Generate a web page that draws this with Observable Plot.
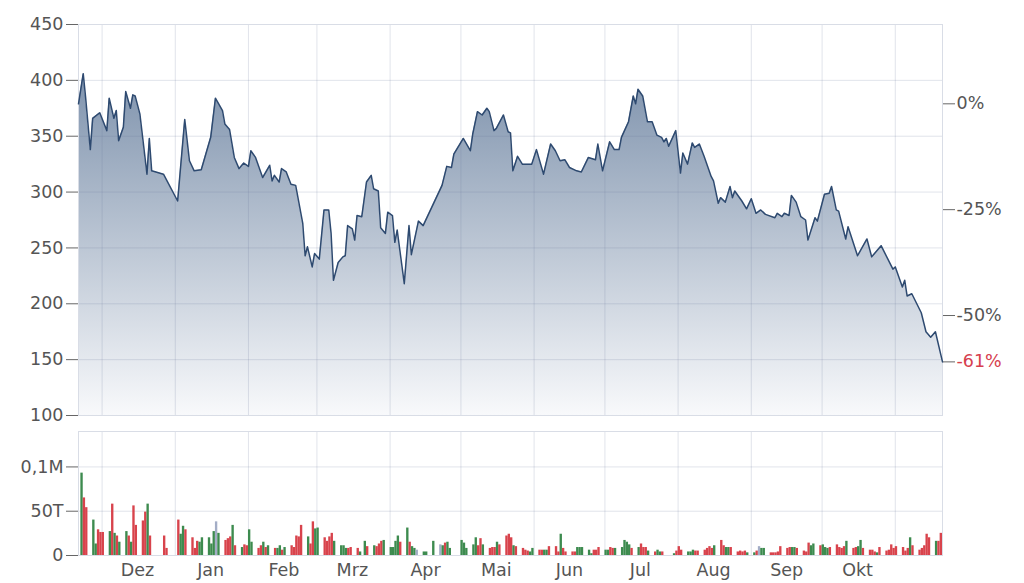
<!DOCTYPE html>
<html>
<head>
<meta charset="utf-8">
<script src="https://cdn.jsdelivr.net/npm/d3@7"></script>
<script src="https://cdn.jsdelivr.net/npm/@observablehq/plot@0.6"></script>
<style>
  body { margin: 0; background: #fff; }
  #chart { width: 1024px; height: 583px; overflow: hidden; background: #fff; }
  #chart svg { display: block; }
</style>
</head>
<body>
<div id="chart"></div>
<script>
// ---- price series ----
const priceDates = [
  "2023-11-21","2023-11-23","2023-11-24","2023-11-26","2023-11-27","2023-11-30",
  "2023-12-03","2023-12-04","2023-12-06","2023-12-07","2023-12-08","2023-12-10","2023-12-11","2023-12-13","2023-12-14","2023-12-15","2023-12-17","2023-12-20","2023-12-21","2023-12-22","2023-12-27",
  "2024-01-02","2024-01-05","2024-01-07","2024-01-09","2024-01-12","2024-01-16","2024-01-18","2024-01-21","2024-01-22","2024-01-24","2024-01-26","2024-01-28","2024-01-30",
  "2024-02-01","2024-02-02","2024-02-04","2024-02-07","2024-02-10","2024-02-11","2024-02-12","2024-02-14","2024-02-15","2024-02-17","2024-02-19","2024-02-21","2024-02-24","2024-02-25","2024-02-26","2024-02-28","2024-02-29",
  "2024-03-02","2024-03-04","2024-03-06","2024-03-07","2024-03-08","2024-03-10","2024-03-12","2024-03-13","2024-03-14","2024-03-16","2024-03-17","2024-03-18","2024-03-20","2024-03-22","2024-03-24","2024-03-25","2024-03-27","2024-03-28","2024-03-30","2024-03-31",
  "2024-04-02","2024-04-03","2024-04-04","2024-04-07","2024-04-09","2024-04-10","2024-04-13","2024-04-15","2024-04-23","2024-04-25","2024-04-27","2024-04-28",
  "2024-05-02","2024-05-05","2024-05-06","2024-05-08","2024-05-10","2024-05-12","2024-05-13","2024-05-15","2024-05-16","2024-05-19","2024-05-21","2024-05-22","2024-05-23","2024-05-25","2024-05-27","2024-05-31",
  "2024-06-02","2024-06-05","2024-06-08","2024-06-10","2024-06-12","2024-06-14","2024-06-16","2024-06-19","2024-06-21","2024-06-24","2024-06-27","2024-06-28","2024-06-30",
  "2024-07-03","2024-07-05","2024-07-07","2024-07-08","2024-07-11","2024-07-13","2024-07-14","2024-07-15","2024-07-17","2024-07-19","2024-07-21","2024-07-23","2024-07-25","2024-07-26","2024-07-27","2024-07-28","2024-07-31",
  "2024-08-02","2024-08-03","2024-08-05","2024-08-07","2024-08-08","2024-08-10","2024-08-12","2024-08-15","2024-08-16","2024-08-18","2024-08-19","2024-08-21","2024-08-23","2024-08-24","2024-08-25","2024-08-28","2024-08-30",
  "2024-09-01","2024-09-03","2024-09-05","2024-09-07","2024-09-11","2024-09-12","2024-09-14","2024-09-15","2024-09-17","2024-09-18","2024-09-20","2024-09-22","2024-09-24","2024-09-25","2024-09-28","2024-09-29",
  "2024-10-02","2024-10-04","2024-10-05","2024-10-07","2024-10-08","2024-10-11","2024-10-12","2024-10-16","2024-10-20","2024-10-22","2024-10-26","2024-10-31",
  "2024-11-01","2024-11-04","2024-11-05","2024-11-06","2024-11-08","2024-11-12","2024-11-14","2024-11-16","2024-11-18","2024-11-21"
];
const prices = [
  379,406,385,338,366,371,
  355,384,366,373,346,358,390,375,387,386,370,316,348,319,316,
  292,365,328,319,320,349,384,373,361,356,331,321,326,
  323,337,331,313,324,310,315,309,321,318,307,306,272,243,251,233,245,
  240,284,284,263,221,237,242,243,270,267,257,279,278,309,315,303,301,268,263,282,
  279,255,266,218,270,244,274,270,306,323,322,334,
  348,337,352,372,369,375,372,355,357,369,354,353,319,332,325,325,
  338,316,343,337,328,329,322,319,318,331,329,343,319,
  345,338,338,349,363,386,379,392,386,363,363,351,349,345,348,341,355,
  317,335,325,344,340,343,332,314,310,290,295,291,305,295,301,292,285,
  294,281,284,280,277,281,278,281,279,297,291,278,275,257,277,274,
  298,299,305,284,283,258,269,243,258,242,252,231,
  233,215,221,207,209,192,175,170,175,148
];

// ---- volume series: one value (thousands) per trading weekday from volumeStart ----
const volumeStart = "2023-11-22";
const volumeEnd = "2024-11-21";
const volumesK = [
  93,65,54,40,13,29,26,26,27,58,
  25,22,15,27,22,15,56,34,39,49,
  58,22,0,0,0,22,8,0,0,40,
  24,33,29,20,8,16,15,20,20,13,
  27,38,25,17,19,21,34,11,9,12,
  11,29,15,8,11,15,9,11,8,8,
  11,6,9,11,9,22,21,34,21,13,
  38,30,31,20,16,21,25,16,11,11,
  8,8,9,8,4,0,16,10,11,10,
  13,16,17,9,9,16,22,15,31,15,
  10,8,6,4,4,0,0,16,12,11,
  14,15,8,0,0,17,14,8,12,20,
  11,19,12,8,9,9,15,12,22,24,
  20,11,10,8,6,5,4,8,6,6,
  6,6,10,10,4,24,8,4,4,4,
  9,9,9,6,2,6,6,9,6,6,
  9,8,8,9,17,15,12,8,9,13,
  9,9,5,4,6,4,4,0,0,2,
  5,10,6,4,4,6,5,5,6,8,
  10,8,11,17,11,9,9,9,4,5,
  4,5,3,3,5,10,8,8,3,3,
  3,4,10,8,9,9,9,8,5,4,
  14,11,13,11,12,9,8,9,12,9,
  8,10,16,8,9,10,17,8,6,6,
  4,3,9,5,6,12,8,10,9,5,
  8,20,11,6,8,11,24,20,16,16,
  25
];
// g = up day, r = down day, f = unchanged, - = no trade
const volumeDirs = (
  "grrggrrrgr" + "grggrgrrrr" + "gr---rr--r" + "ggrrrrgggg" + "gfgrrrgrgr" +
  "rggrrgrgrg" + "grgrrrrrgr" + "rggrrrrggg" + "grrrg-grgr" + "rrgggggrgr" +
  "ggfgg--gfg" + "rgg--ggggg" + "rrgrrrgrrr" + "rgrrrrggrr" + "ggrrrgrrrr" +
  "gggggrrrgg" + "rrgggggrgr" + "rrgrggr--g" + "rrrgggrrrr" + "rrgrrggrrr" +
  "rrggrfggrr" + "rrrrrggrrr" + "rggrgggrrr" + "rrgrrggrrr" + "rgrrrrrrrr" +
  "rgrrrrrrgr" + "r"
).split("");

// ---- axes ----
const priceTicks = [100, 150, 200, 250, 300, 350, 400, 450];
const pctTicks = [0, -25, -50];
const volumeTicks = [0, 50000, 100000];
const volumeTickLabels = ["0", "50T", "0,1M"];
const monthStarts = ["2023-12-01","2024-01-01","2024-02-01","2024-03-01","2024-04-01","2024-05-01",
                     "2024-06-01","2024-07-01","2024-08-01","2024-09-01","2024-10-01","2024-11-01"];
const monthLabelDates = ["2023-12-16","2024-01-16","2024-02-16","2024-03-16","2024-04-16","2024-05-16",
                         "2024-06-16","2024-07-16","2024-08-16","2024-09-16","2024-10-16"];
const monthLabels = ["Dez","Jan","Feb","Mrz","Apr","Mai","Jun","Jul","Aug","Sep","Okt"];

// ---- build tables ----
const xDomain = [new Date("2023-11-21"), new Date(volumeEnd)];
const priceData = priceDates.map((d, i) => ({date: new Date(d), price: prices[i]}));
const tradingDays = d3.utcDay.range(new Date(volumeStart), new Date(volumeEnd))
  .filter(d => d.getUTCDay() !== 0 && d.getUTCDay() !== 6);
const volumeData = volumesK.map((v, i) => ({
  date: tradingDays[i],
  next: d3.utcDay.offset(tradingDays[i], 1),
  volume: v * 1000,
  dir: volumeDirs[i]
})).filter(d => d.volume > 0);

const monthStartDates = monthStarts.map(d => new Date(d));
const monthLabelDateObjs = monthLabelDates.map(d => new Date(d));

const base = prices[0];
const last = prices[prices.length - 1];
const pctLabel = v => {
  const p = Math.round((v / base - 1) * 100);
  return (p < 0 ? "-" : "") + Math.abs(p) + "%";
};

const textColor = "#555";
const gridColor = "#6b7a99";
const gridOpacity = 0.2;
const frameColor = "#d9dde6";
const font = {fontFamily: "DejaVu Sans, Verdana, sans-serif", fontSize: "17.5px", background: "white", overflow: "visible"};

const gradientDefs = () => {
  const defs = d3.create("svg:defs");
  const g = defs.append("linearGradient").attr("id", "priceFill")
    .attr("x1", 0).attr("y1", 0).attr("x2", 0).attr("y2", 1);
  g.append("stop").attr("offset", "0%").attr("stop-color", "#7f93ad");
  g.append("stop").attr("offset", "100%").attr("stop-color", "#f8f9fb");
  return defs.node();
};

const pricePlot = Plot.plot({
  width: 1024, height: 425,
  marginLeft: 78, marginRight: 82, marginTop: 24, marginBottom: 10,
  style: font,
  x: {type: "utc", domain: xDomain, axis: null},
  y: {domain: [100, 450], label: null},
  marks: [
    gradientDefs,
    Plot.areaY(priceData, {x: "date", y1: 100, y2: "price", fill: "url(#priceFill)"}),
    Plot.gridX(monthStartDates, {stroke: gridColor, strokeOpacity: gridOpacity}),
    Plot.gridY(priceTicks, {stroke: gridColor, strokeOpacity: gridOpacity}),
    Plot.frame({stroke: frameColor}),
    Plot.lineY(priceData, {x: "date", y: "price", stroke: "#2e4a70", strokeWidth: 1.5, strokeLinejoin: "round"}),
    Plot.axisY({ticks: priceTicks, anchor: "left", label: null, tickSize: 12, tickPadding: 3, stroke: "#666", fill: textColor}),
    Plot.axisY({ticks: pctTicks.map(p => base * (1 + p / 100)), tickFormat: pctLabel, anchor: "right", label: null,
                tickSize: 12, tickPadding: 2, stroke: "#666", fill: textColor}),
    Plot.axisY({ticks: [last], tickFormat: pctLabel, anchor: "right", label: null,
                tickSize: 12, tickPadding: 2, stroke: "#666", fill: "#d6404e"})
  ]
});

const volumePlot = Plot.plot({
  width: 1024, height: 158,
  marginLeft: 78, marginRight: 82, marginTop: 6, marginBottom: 28,
  style: font,
  x: {type: "utc", domain: xDomain, label: null},
  y: {domain: [0, 140000], label: null},
  color: {domain: ["g", "r", "f"], range: ["#3d8b4f", "#d8434c", "#a3adc6"]},
  marks: [
    Plot.gridX(monthStartDates, {stroke: gridColor, strokeOpacity: gridOpacity}),
    Plot.gridY([50000, 100000], {stroke: gridColor, strokeOpacity: gridOpacity}),
    Plot.frame({stroke: frameColor}),
    Plot.rect(volumeData, {x1: "date", x2: "next", y1: 0, y2: "volume", fill: "dir"}),
    Plot.axisY({ticks: volumeTicks, tickFormat: d => volumeTickLabels[volumeTicks.indexOf(d)], label: null,
                anchor: "left", tickSize: 12, tickPadding: 3, stroke: "#666", fill: textColor}),
    Plot.axisX({ticks: monthLabelDateObjs, label: null,
                tickFormat: d => monthLabels[monthLabelDateObjs.findIndex(m => +m === +d)],
                tickSize: 0, tickPadding: 8, fill: textColor})
  ]
});

const chart = document.getElementById("chart");
chart.appendChild(pricePlot);
chart.appendChild(volumePlot);
</script>
</body>
</html>
